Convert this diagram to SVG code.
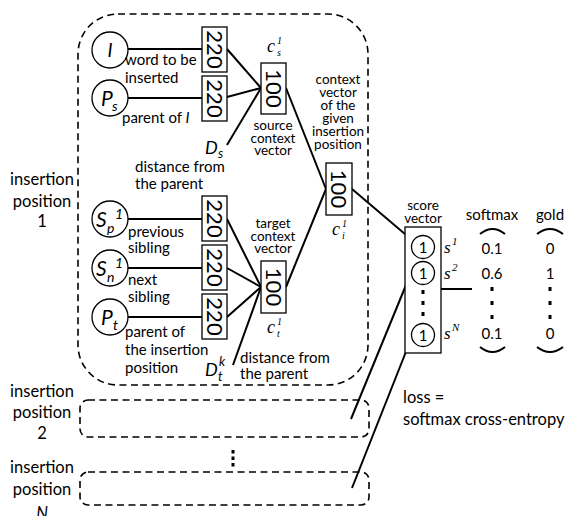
<svg xmlns="http://www.w3.org/2000/svg" width="569" height="516" viewBox="0 0 569 516">
<style>
.t{font-family:Lato,"Open Sans",sans-serif;font-size:15px;fill:#000}
.s{font-size:13.5px}
.c{text-anchor:middle}
.big{font-size:16.5px}
.it{font-family:Lato,sans-serif;font-style:italic;fill:#000}
.sr{font-family:"Liberation Serif",serif;font-style:italic;fill:#000}
.num{font-family:Lato,sans-serif;font-size:22px;fill:#000}
.box{fill:#fff;stroke:#000;stroke-width:1.3}
.nd{fill:#fff;stroke:#000;stroke-width:1.3}
.ln{stroke:#000;stroke-width:2;fill:none}
.dash{fill:none;stroke:#000;stroke-width:1.6;stroke-dasharray:7 4.5}
.dot{fill:#000}
</style>
<rect width="569" height="516" fill="#fff"/>
<g id="groups">
<rect class="dash" x="78" y="14" width="290" height="371" rx="40"/>
<rect class="dash" x="80" y="400" width="289" height="37" rx="8"/>
<rect class="dash" x="80" y="472" width="289" height="33" rx="8"/>
<rect class="dot" x="231.5" y="450" width="3" height="3.5"/>
<rect class="dot" x="231.5" y="456.5" width="3" height="3.5"/>
<rect class="dot" x="231.5" y="463" width="3" height="3.5"/>
</g>
<g id="connectors">
<line class="ln" x1="128" y1="49" x2="202" y2="49"/>
<line class="ln" x1="128" y1="98" x2="202" y2="98"/>
<line class="ln" x1="227" y1="49" x2="261" y2="88"/>
<line class="ln" x1="227" y1="97" x2="261" y2="88"/>
<line class="ln" x1="227" y1="145" x2="261" y2="88"/>
<line class="ln" x1="128" y1="219" x2="202" y2="219"/>
<line class="ln" x1="128" y1="268" x2="202" y2="268"/>
<line class="ln" x1="128" y1="317" x2="202" y2="317"/>
<line class="ln" x1="227" y1="219" x2="261" y2="287"/>
<line class="ln" x1="227" y1="268" x2="261" y2="287"/>
<line class="ln" x1="227" y1="317" x2="261" y2="287"/>
<line class="ln" x1="233" y1="365" x2="261" y2="287"/>
<line class="ln" x1="286" y1="88" x2="326" y2="189"/>
<line class="ln" x1="286" y1="287" x2="326" y2="189"/>
<line class="ln" x1="352" y1="189" x2="412" y2="240"/>
<line class="ln" x1="413" y1="268" x2="351" y2="419"/>
<line class="ln" x1="413" y1="334" x2="352" y2="488"/>
<line class="ln" x1="441" y1="289" x2="472" y2="289"/>
</g>
<g id="n-I">
<circle class="nd" cx="110" cy="50" r="18"/>
<text class="it" x="110" y="57" font-size="19" text-anchor="middle">I</text>
</g>
<g id="n-Ps">
<circle class="nd" cx="110" cy="98" r="18"/>
<text class="it" x="101" y="106" font-size="21">P</text><text class="it" x="112" y="111" font-size="14">s</text>
</g>
<g id="n-Sp">
<circle class="nd" cx="110" cy="219" r="18"/>
<text class="it" x="96" y="227" font-size="21">S</text><text class="it" x="107" y="233" font-size="14">p</text><text class="it" x="115" y="219" font-size="14">1</text>
</g>
<g id="n-Sn">
<circle class="nd" cx="110" cy="268" r="18"/>
<text class="it" x="96" y="276" font-size="21">S</text><text class="it" x="107" y="282" font-size="14">n</text><text class="it" x="115" y="268" font-size="14">1</text>
</g>
<g id="n-Pt">
<circle class="nd" cx="110" cy="317" r="18"/>
<text class="it" x="101" y="325" font-size="21">P</text><text class="it" x="113" y="330" font-size="14">t</text>
</g>
<g id="b-220a"><rect class="box" x="202" y="27" width="25" height="45"/><text class="num" transform="translate(206.5,49.5) rotate(90)" text-anchor="middle">220</text></g>
<g id="b-220b"><rect class="box" x="202" y="76" width="25" height="45"/><text class="num" transform="translate(206.5,98.5) rotate(90)" text-anchor="middle">220</text></g>
<g id="b-220c"><rect class="box" x="202" y="196" width="25" height="45"/><text class="num" transform="translate(206.5,218.5) rotate(90)" text-anchor="middle">220</text></g>
<g id="b-220d"><rect class="box" x="202" y="245" width="25" height="45"/><text class="num" transform="translate(206.5,267.5) rotate(90)" text-anchor="middle">220</text></g>
<g id="b-220e"><rect class="box" x="202" y="294" width="25" height="45"/><text class="num" transform="translate(206.5,316.5) rotate(90)" text-anchor="middle">220</text></g>
<g id="b-cs"><rect class="box" x="261" y="63" width="25" height="51"/><text class="num" transform="translate(265.5,88.5) rotate(90)" text-anchor="middle">100</text></g>
<g id="b-ct"><rect class="box" x="261" y="261" width="25" height="52"/><text class="num" transform="translate(265.5,287) rotate(90)" text-anchor="middle">100</text></g>
<g id="b-ci"><rect class="box" x="326" y="163" width="26" height="52"/><text class="num" transform="translate(331,189) rotate(90)" text-anchor="middle">100</text></g>
<g id="score">
<rect class="box" x="405" y="227" width="36" height="126"/>
<circle class="nd" cx="423" cy="247" r="11.5"/><text class="t" x="423" y="253" font-size="17" text-anchor="middle">1</text>
<circle class="nd" cx="423" cy="273" r="11.5"/><text class="t" x="423" y="279" font-size="17" text-anchor="middle">1</text>
<circle class="nd" cx="423" cy="335" r="11.5"/><text class="t" x="423" y="341" font-size="17" text-anchor="middle">1</text>
<rect class="dot" x="421.5" y="290" width="3" height="4"/>
<rect class="dot" x="421.5" y="301" width="3" height="4"/>
<rect class="dot" x="421.5" y="312" width="3" height="4"/>
<text class="t s c" x="423" y="210">score</text>
<text class="t s c" x="423" y="223">vector</text>
<text class="sr" x="444" y="253" font-size="17">s</text><text class="sr" x="452" y="245" font-size="11" font-style="normal">1</text>
<text class="sr" x="444" y="279" font-size="17">s</text><text class="sr" x="452" y="271" font-size="11" font-style="normal">2</text>
<text class="sr" x="444" y="339" font-size="17">s</text><text class="sr" x="452" y="331" font-size="11">N</text>
</g>
<g id="softmax">
<text class="t c" x="492" y="220">softmax</text>
<path class="ln" d="M480,234 Q492.5,224 505,234" stroke-width="1.6"/>
<text class="t c" x="492" y="254" font-size="17">0.1</text>
<text class="t c" x="492" y="279" font-size="17">0.6</text>
<rect class="dot" x="490.5" y="287" width="3" height="4"/>
<rect class="dot" x="490.5" y="301" width="3" height="4"/>
<rect class="dot" x="490.5" y="315" width="3" height="4"/>
<text class="t c" x="492" y="339" font-size="17">0.1</text>
<path class="ln" d="M480,347 Q492.5,357 505,347" stroke-width="1.6"/>
</g>
<g id="gold">
<text class="t c" x="550" y="220">gold</text>
<path class="ln" d="M537,234 Q550,224 563,234" stroke-width="1.6"/>
<text class="t c" x="550" y="254" font-size="17">0</text>
<text class="t c" x="550" y="279" font-size="17">1</text>
<rect class="dot" x="548.5" y="287" width="3" height="4"/>
<rect class="dot" x="548.5" y="301" width="3" height="4"/>
<rect class="dot" x="548.5" y="315" width="3" height="4"/>
<text class="t c" x="550" y="339" font-size="17">0</text>
<path class="ln" d="M537,347 Q550,357 563,347" stroke-width="1.6"/>
</g>
<g id="labels">
<text class="t" x="125" y="65">word to be</text>
<text class="t" x="125" y="83">inserted</text>
<text class="t" x="122" y="123">parent of <tspan font-style="italic">I</tspan></text>
<text class="it" x="205" y="154" font-size="18">D</text><text class="it" x="218" y="158" font-size="13">s</text>
<text class="t" x="135" y="172">distance from</text>
<text class="t" x="135" y="189">the parent</text>
<text class="t" x="128" y="237">previous</text>
<text class="t" x="128" y="253">sibling</text>
<text class="t" x="128" y="285">next</text>
<text class="t" x="128" y="302">sibling</text>
<text class="t" x="125" y="337">parent of</text>
<text class="t" x="125" y="355">the insertion</text>
<text class="t" x="125" y="373">position</text>
<text class="it" x="205" y="376" font-size="18">D</text><text class="it" x="218" y="381" font-size="13">t</text><text class="it" x="219" y="366" font-size="13">k</text>
<text class="t" x="240" y="363">distance from</text>
<text class="t" x="240" y="379">the parent</text>
<text class="sr" x="267" y="52" font-size="18">c</text><text class="sr" x="277" y="56" font-size="10">s</text><text class="sr" x="277" y="44" font-size="10" font-style="normal">1</text>
<text class="t s c" x="273" y="130">source</text>
<text class="t s c" x="273" y="142.5">context</text>
<text class="t s c" x="273" y="155">vector</text>
<text class="t s c" x="273" y="228">target</text>
<text class="t s c" x="273" y="240.5">context</text>
<text class="t s c" x="273" y="253">vector</text>
<text class="sr" x="267" y="333" font-size="18">c</text><text class="sr" x="277" y="337" font-size="10">t</text><text class="sr" x="277" y="325" font-size="10" font-style="normal">1</text>
<text class="t s c" x="338" y="84">context</text>
<text class="t s c" x="338" y="97">vector</text>
<text class="t s c" x="338" y="110">of the</text>
<text class="t s c" x="338" y="123">given</text>
<text class="t s c" x="338" y="136">insertion</text>
<text class="t s c" x="338" y="149">position</text>
<text class="sr" x="332" y="235" font-size="18">c</text><text class="sr" x="342" y="239" font-size="10">i</text><text class="sr" x="342" y="227" font-size="10" font-style="normal">1</text>
<text class="t big c" x="42" y="185">insertion</text>
<text class="t big c" x="42" y="207">position</text>
<text class="t big c" x="42" y="227">1</text>
<text class="t big c" x="42" y="397">insertion</text>
<text class="t big c" x="42" y="418">position</text>
<text class="t big c" x="42" y="439">2</text>
<text class="t big c" x="42" y="473">insertion</text>
<text class="t big c" x="42" y="495">position</text>
<text class="t big c" x="42" y="519" font-style="italic">N</text>
<text class="t big" x="403" y="403">loss =</text>
<text class="t big" x="403" y="425">softmax cross-entropy</text>
</g>
</svg>
